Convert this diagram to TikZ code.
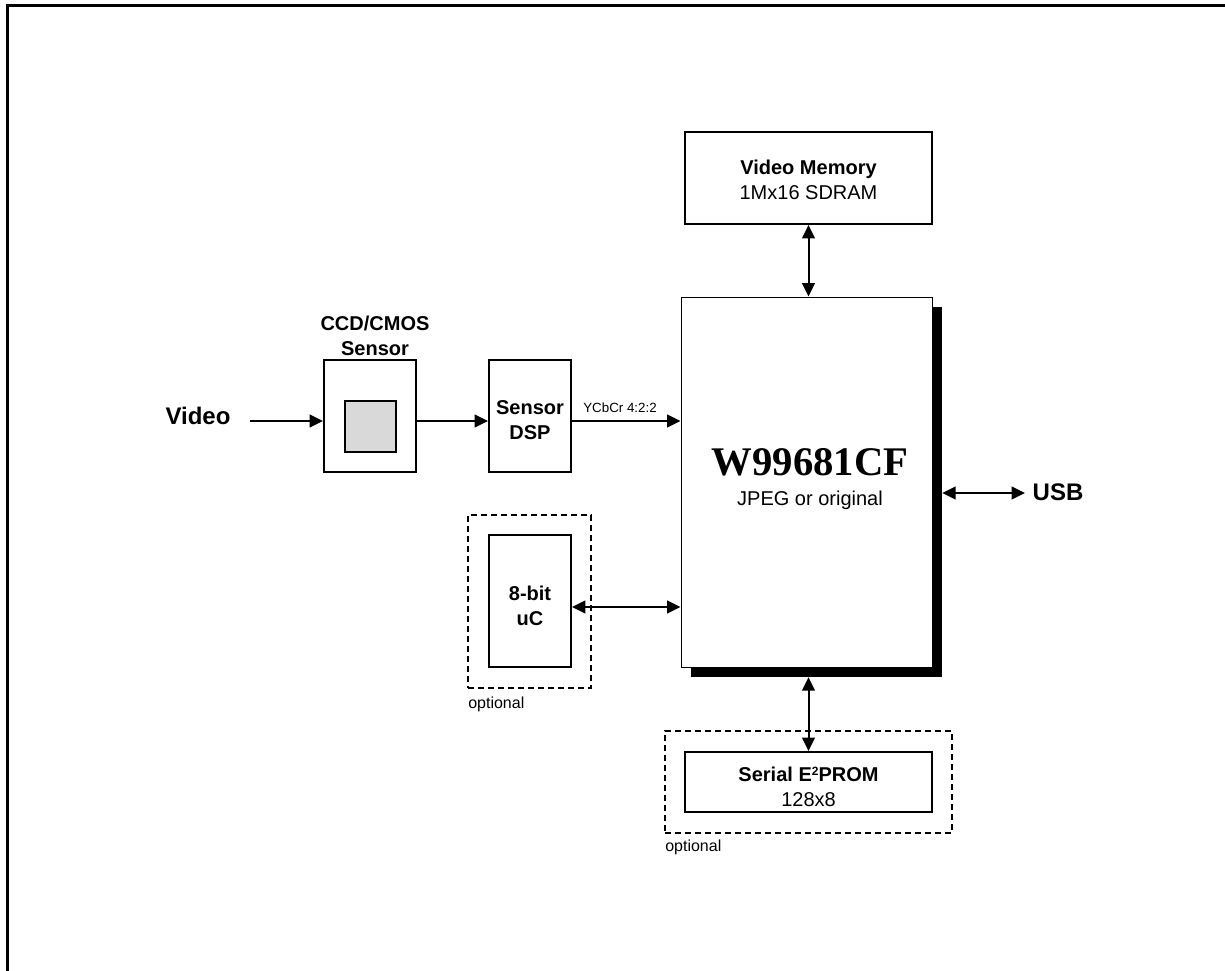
\documentclass[tikz,border=0pt]{standalone}
\usepackage{fontspec}
\setmainfont{Liberation Sans}
\newfontfamily\serifb{Liberation Serif}
\usetikzlibrary{arrows.meta}
\begin{document}
\begin{tikzpicture}[x=0.75pt,y=-0.75pt,
  box/.style={draw, line width=1.5pt, fill=white, inner sep=0pt},
  optbox/.style={draw, line width=1.5pt, dash pattern=on 4.5pt off 3pt, inner sep=0pt},
  conn/.style={line width=1.5pt},
  arr/.style={conn, -{Triangle[length=10pt,width=9.5pt]}},
  biarr/.style={conn, {Triangle[length=10pt,width=9.5pt]}-{Triangle[length=10pt,width=9.5pt]}},
  txt/.style={font=\fontsize{15pt}{18.75pt}\selectfont, align=center, inner sep=0pt},
  big/.style={font=\fontsize{18pt}{22pt}\selectfont\bfseries, inner sep=0pt},
  small/.style={font=\fontsize{10pt}{12pt}\selectfont, inner sep=0pt},
  opt/.style={font=\fontsize{12pt}{14pt}\selectfont, inner sep=0pt, anchor=west}
]
\useasboundingbox (0,0) rectangle (1225,971);
\fill[white] (0,0) rectangle (1225,971);
\draw[line width=2.25pt] (1225,5) -- (7,5) -- (7,971);

% video memory
\node[box, minimum width=185.25pt, minimum height=69pt] (vm) at (808.5,178) {};
\node[txt] (vmtext) at (808.5,180) {\textbf{Video Memory}\\1Mx16 SDRAM};

% main chip with shadow
\node[fill=black, inner sep=0pt, minimum width=188.25pt, minimum height=277.5pt] (shadow) at (816.5,492) {};
\node[draw, line width=0.75pt, fill=white, inner sep=0pt, minimum width=188.25pt, minimum height=277.5pt] (chip) at (806.5,482) {};
\node[inner sep=0pt, font=\serifb\bfseries\fontsize{30.5pt}{36pt}\selectfont] (chipname) at (810,462) {W99681CF};
\node[txt] (chipsub) at (810,500) {JPEG or original};

% CCD/CMOS sensor
\node[box, minimum width=69pt, minimum height=84pt] (ccd) at (370,416) {};
\node[draw, line width=1.5pt, fill=black!15, minimum size=38.25pt, inner sep=0pt] (pixel) at (370.5,426.5) {};
\node[txt] (ccdlabel) at (375,336) {\textbf{CCD/CMOS}\\\textbf{Sensor}};

% sensor DSP
\node[box, minimum width=61.5pt, minimum height=84pt] (dsp) at (530,416) {};
\node[txt] (dsptext) at (530,420) {\textbf{Sensor}\\\textbf{DSP}};

% 8-bit uC
\node[optbox, minimum width=92.25pt, minimum height=129.75pt] (ucopt) at (529.5,601.5) {};
\node[box, minimum width=61.5pt, minimum height=99pt] (uc) at (530,601) {};
\node[txt] (uctext) at (530,606) {\textbf{8-bit}\\\textbf{uC}};
\node[opt] (opt1) at (468,704) {optional};

% serial EEPROM
\node[optbox, minimum width=215.25pt, minimum height=76.5pt] (eeopt) at (808.5,782) {};
\node[box, minimum width=185.25pt, minimum height=45pt] (ee) at (808.5,782) {};
\node[txt] (eetext) at (808.5,787) {\textbf{Serial E\raisebox{0.55ex}{\fontsize{9pt}{10pt}\selectfont 2}PROM}\\128x8};
\node[opt] (opt2) at (665,847) {optional};

% labels
\node[big] (video) at (198,416) {Video};
\node[big] (usb) at (1058,492) {USB};
\node[small] (ycbcr) at (620,408) {YCbCr 4:2:2};

% connectors
\coordinate (vin) at (250,421);
\coordinate (ucy) at (0,607);
\coordinate (usbend) at (1025,493);
\draw[arr] (vin) -- (vin -| ccd.west);
\draw[arr] (ccd.east |- vin) -- (dsp.west |- vin);
\draw[arr] (dsp.east |- vin) -- (chip.west |- vin);
\draw[biarr] (uc.east |- ucy) -- (chip.west |- ucy);
\draw[biarr] (vm.south) -- (vm.south |- chip.north);
\draw[biarr] (ee.north |- shadow.south) -- (ee.north);
\draw[biarr] (shadow.east |- usbend) -- (usbend);
\end{tikzpicture}
\end{document}
